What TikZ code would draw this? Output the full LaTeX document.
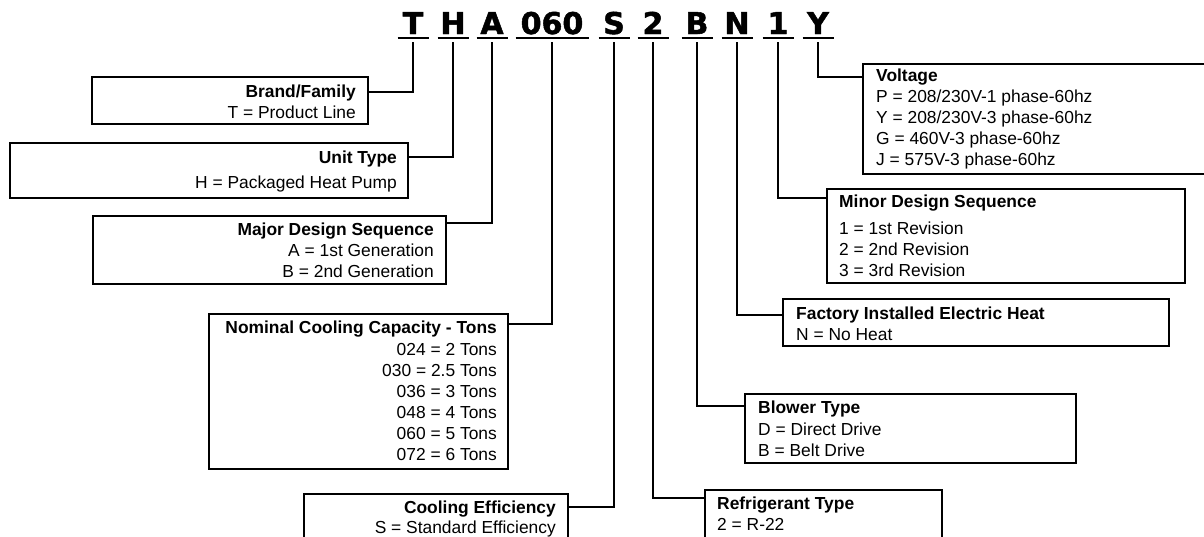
\documentclass[tikz,border=0pt]{standalone}
\usepackage{fontspec}
\setmainfont{Liberation Sans}
\newfontfamily\codefont{DejaVu Sans Bold}[FakeBold=1.6]
\usetikzlibrary{calc}
\tikzset{
  box/.style={draw, line width=1.8pt, rectangle, inner sep=0pt, anchor=north west},
  conn/.style={line width=2pt},
  uline/.style={line width=2pt},
  code/.style={font=\codefont\fontsize{30}{30}\selectfont, inner sep=0pt, anchor=base},
  tb/.style={font=\bfseries\fontsize{17.4}{21}\selectfont, inner sep=0pt},
  tr/.style={font=\fontsize{17.4}{21}\selectfont, inner sep=0pt},
}
\begin{document}
\begin{tikzpicture}[x=1pt,y=-1pt]
\clip (0,0) rectangle (1204,536);
\fill[white] (0,0) rectangle (1204,536);
% code letters
\node[code] (cT) at (413,34) {T};
\node[code] (cH) at (453,34) {H};
\node[code] (cA) at (492,34) {A};
\node[code] (cCap) at (552,34) {060};
\node[code] (cS) at (614,34) {S};
\node[code] (c2) at (653,34) {2};
\node[code] (cB) at (697,34) {B};
\node[code] (cN) at (737,34) {N};
\node[code] (c1) at (778,34) {1};
\node[code] (cY) at (818,34) {Y};
\foreach \n in {T,H,A,S,2,B,N,1,Y}{
  \draw[uline] ($(c\n.base)+(-15.5,4)$) -- ++(31,0);
  \coordinate (v\n) at ($(c\n.base)+(0,8)$);
}
\draw[uline] ($(cCap.base)+(-36.5,4)$) -- ++(73,0);
\coordinate (vCap) at ($(cCap.base)+(0,8)$);

% left boxes
\node[box, minimum width=276pt, minimum height=47pt] (bBrand) at (91,76) {};
\node[tb, anchor=base east] (tBrand1) at (356,97) {Brand/Family};
\node[tr, anchor=base east] (tBrand2) at (356,118) {T = Product Line};

\node[box, minimum width=398pt, minimum height=55pt] (bUnit) at (9,142) {};
\node[tb, anchor=base east] (tUnit1) at (397,163) {Unit Type};
\node[tr, anchor=base east] (tUnit2) at (397,188) {H = Packaged Heat Pump};

\node[box, minimum width=353pt, minimum height=68pt] (bMajor) at (92,215) {};
\node[tb, anchor=base east] (tMajor1) at (434,235) {Major Design Sequence};
\node[tr, anchor=base east] (tMajor2) at (434,256) {A = 1st Generation};
\node[tr, anchor=base east] (tMajor3) at (434,277) {B = 2nd Generation};

\node[box, minimum width=299pt, minimum height=155pt] (bNom) at (208,313) {};
\node[tb, anchor=base east] (tNom1) at (497,333) {Nominal Cooling Capacity - Tons};
\node[tr, anchor=base east] (tNom2) at (497,355) {024 = 2 Tons};
\node[tr, anchor=base east] (tNom3) at (497,376) {030 = 2.5 Tons};
\node[tr, anchor=base east] (tNom4) at (497,397) {036 = 3 Tons};
\node[tr, anchor=base east] (tNom5) at (497,418) {048 = 4 Tons};
\node[tr, anchor=base east] (tNom6) at (497,439) {060 = 5 Tons};
\node[tr, anchor=base east] (tNom7) at (497,460) {072 = 6 Tons};

\node[box, minimum width=264pt, minimum height=60pt] (bEff) at (303,493) {};
\node[tb, anchor=base east] (tEff1) at (556,513) {Cooling Efficiency};
\node[tr, anchor=base east] (tEff2) at (556,533) {S = Standard Efficiency};

% right boxes
\node[box, minimum width=360pt, minimum height=110pt] (bVolt) at (862,63) {};
\node[tb, anchor=base west] (tVolt1) at (876,81) {Voltage};
\node[tr, anchor=base west] (tVolt2) at (876,102) {P = 208/230V-1 phase-60hz};
\node[tr, anchor=base west] (tVolt3) at (876,123) {Y = 208/230V-3 phase-60hz};
\node[tr, anchor=base west] (tVolt4) at (876,144) {G = 460V-3 phase-60hz};
\node[tr, anchor=base west] (tVolt5) at (876,165) {J = 575V-3 phase-60hz};

\node[box, minimum width=358pt, minimum height=94pt] (bMinor) at (826,188) {};
\node[tb, anchor=base west] (tMinor1) at (839,207) {Minor Design Sequence};
\node[tr, anchor=base west] (tMinor2) at (839,234) {1 = 1st Revision};
\node[tr, anchor=base west] (tMinor3) at (839,255) {2 = 2nd Revision};
\node[tr, anchor=base west] (tMinor4) at (839,276) {3 = 3rd Revision};

\node[box, minimum width=386pt, minimum height=47pt] (bHeat) at (782,298) {};
\node[tb, anchor=base west] (tHeat1) at (796,319) {Factory Installed Electric Heat};
\node[tr, anchor=base west] (tHeat2) at (796,340) {N = No Heat};

\node[box, minimum width=331pt, minimum height=69pt] (bBlow) at (744,393) {};
\node[tb, anchor=base west] (tBlow1) at (758,413) {Blower Type};
\node[tr, anchor=base west] (tBlow2) at (758,435) {D = Direct Drive};
\node[tr, anchor=base west] (tBlow3) at (758,456) {B = Belt Drive};

\node[box, minimum width=237pt, minimum height=60pt] (bRef) at (704,489) {};
\node[tb, anchor=base west] (tRef1) at (717,509) {Refrigerant Type};
\node[tr, anchor=base west] (tRef2) at (717,530) {2 = R-22};

% connectors
\draw[conn] (vT) |- ($(bBrand.north east)+(0,16)$);
\draw[conn] (vH) |- ($(bUnit.north east)+(0,15)$);
\draw[conn] (vA) |- ($(bMajor.north east)+(0,8)$);
\draw[conn] (vCap) |- ($(bNom.north east)+(0,11)$);
\draw[conn] (vS) |- ($(bEff.north east)+(0,14)$);
\draw[conn] (v2) |- ($(bRef.north west)+(0,9)$);
\draw[conn] (vB) |- ($(bBlow.north west)+(0,13)$);
\draw[conn] (vN) |- ($(bHeat.north west)+(0,17)$);
\draw[conn] (v1) |- ($(bMinor.north west)+(0,10)$);
\draw[conn] (vY) |- ($(bVolt.north west)+(0,14)$);
\end{tikzpicture}
\end{document}
